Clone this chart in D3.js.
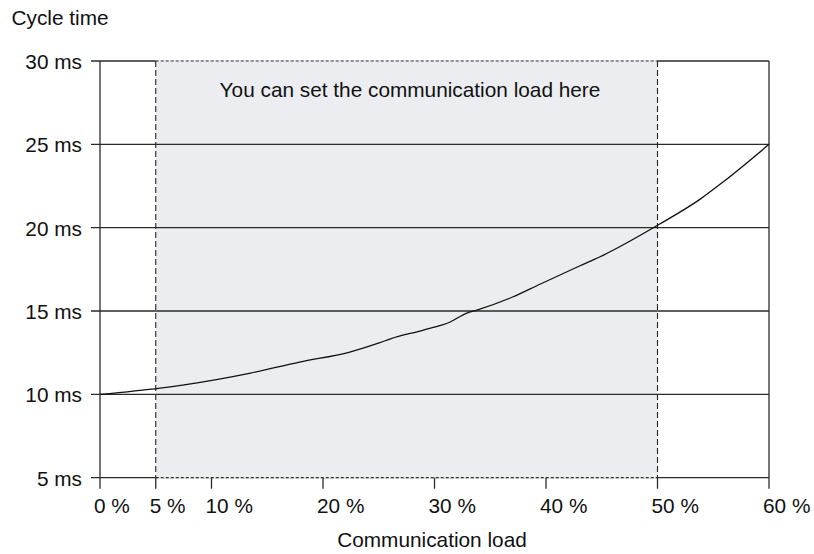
<!DOCTYPE html>
<html>
<head>
<meta charset="utf-8">
<script src="https://cdn.jsdelivr.net/npm/d3@7/dist/d3.min.js"></script>
<style>
  html, body { margin: 0; padding: 0; background: #fff; }
  svg { display: block; font-family: "Liberation Sans", Arial, sans-serif; }
</style>
</head>
<body>
<svg id="chart" width="814" height="554"></svg>
<script>
// ---- data ----
const loadPct   = [0, 5.4, 7.4, 13.5, 17.9, 22.4, 25.1, 26.0, 29.0, 31.4, 32.9, 33.8, 37.0, 39.5, 43.0, 44.8, 50.2, 53.8, 55.9, 60];
const cycleMs   = [10.0, 10.38, 10.56, 11.28, 11.94, 12.54, 13.1, 13.32, 13.86, 14.34, 14.88, 15.06, 15.84, 16.62, 17.7, 18.24, 20.22, 21.7, 22.75, 25.0];
const xTicks    = [0, 5, 10, 20, 30, 40, 50, 60];
const yTicks    = [5, 10, 15, 20, 25, 30];
const rangeLoad = [5, 50];
const yTitle    = "Cycle time";
const xTitle    = "Communication load";
const noteText  = "You can set the communication load here";

// ---- layout ----
const svg = d3.select("#chart");
const pL = 100, pR = 769, pT = 61, pB = 477.7;
const x = d3.scaleLinear().domain([0, 60]).range([pL, pR]);
const y = d3.scaleLinear().domain([5, 30]).range([pB, pT]);
const lineCol = "#2a2a2a";
const fs = 20.8;

// horizontal grid lines (incl. top & bottom) with left ticks
svg.append("g").selectAll("line").data(yTicks).join("line")
  .attr("x1", pL - 9).attr("x2", pR)
  .attr("y1", d => y(d)).attr("y2", d => y(d))
  .attr("stroke", lineCol).attr("stroke-width", 1.3);

// shaded settable region
const sx0 = x(rangeLoad[0]), sx1 = x(rangeLoad[1]);
svg.append("rect")
  .attr("x", sx0).attr("y", pT - 1)
  .attr("width", sx1 - sx0).attr("height", pB - pT + 2)
  .attr("fill", "#ecedf0");

// inner grid lines redrawn over the shading
svg.append("g").selectAll("line").data(yTicks.filter(d => d > 5 && d < 30)).join("line")
  .attr("x1", sx0).attr("x2", sx1)
  .attr("y1", d => y(d)).attr("y2", d => y(d))
  .attr("stroke", lineCol).attr("stroke-width", 1.3);

// dashed border of shaded region
svg.append("g").selectAll("line").data([pT, pB]).join("line")
  .attr("x1", sx0).attr("x2", sx1).attr("y1", d => d).attr("y2", d => d)
  .attr("stroke", "#333").attr("stroke-width", 1.2).attr("stroke-dasharray", "3,2");
svg.append("g").selectAll("line").data(rangeLoad).join("line")
  .attr("x1", d => x(d)).attr("x2", d => x(d)).attr("y1", pT).attr("y2", pB)
  .attr("stroke", "#222").attr("stroke-width", 1.1).attr("stroke-dasharray", "6,3");

// left and right vertical borders
svg.append("line").attr("x1", pL).attr("x2", pL).attr("y1", pT).attr("y2", pB + 11)
  .attr("stroke", lineCol).attr("stroke-width", 1.3);
svg.append("line").attr("x1", pR).attr("x2", pR).attr("y1", pT).attr("y2", pB + 11)
  .attr("stroke", lineCol).attr("stroke-width", 1.3);

// x ticks
svg.append("g").selectAll("line").data(xTicks.filter(d => d !== 0 && d !== 60)).join("line")
  .attr("x1", d => x(d)).attr("x2", d => x(d)).attr("y1", pB).attr("y2", pB + 11)
  .attr("stroke", lineCol).attr("stroke-width", 1.3);

// curve
const pts = loadPct.map((v, i) => [v, cycleMs[i]]);
svg.append("path").datum(pts)
  .attr("d", d3.line().x(d => x(d[0])).y(d => y(d[1])).curve(d3.curveMonotoneX))
  .attr("fill", "none").attr("stroke", "#111").attr("stroke-width", 1.3);

// y labels
svg.append("g").selectAll("text").data(yTicks).join("text")
  .attr("x", pL - 18).attr("y", d => y(d) + 8)
  .attr("text-anchor", "end").attr("font-size", fs).attr("fill", "#111")
  .text(d => d + " ms");

// x labels
svg.append("g").selectAll("text").data(xTicks).join("text")
  .attr("x", d => x(d) - 6).attr("y", 513)
  .attr("text-anchor", "start").attr("font-size", fs).attr("fill", "#111")
  .text(d => d + " %");

// titles
svg.append("text").attr("x", 11.5).attr("y", 25).attr("font-size", fs).attr("fill", "#111").text(yTitle);
svg.append("text").attr("x", 432).attr("y", 547).attr("text-anchor", "middle")
  .attr("font-size", fs).attr("fill", "#111").text(xTitle);
svg.append("text").attr("x", 410).attr("y", 97).attr("text-anchor", "middle")
  .attr("font-size", fs).attr("fill", "#111").text(noteText);
</script>
</body>
</html>
